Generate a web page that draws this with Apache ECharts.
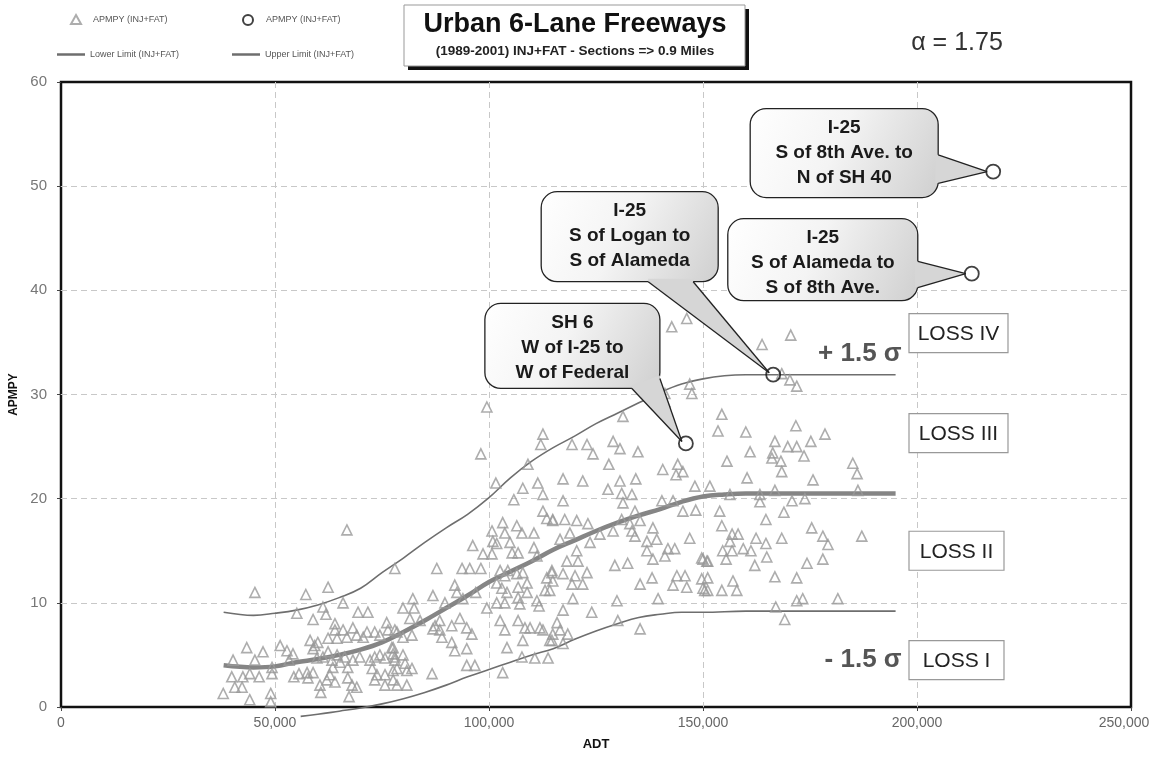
<!DOCTYPE html>
<html><head><meta charset="utf-8">
<script src="https://cdn.jsdelivr.net/npm/echarts@6/dist/echarts.min.js"></script>
<style>html,body{margin:0;padding:0;background:#fff}#c{width:1152px;height:759px}</style>
</head><body><div id="c"></div>
<script>
// ---------- DATA ----------
const xMin = 0, xMax = 250000, xInterval = 50000;
const yMin = 0, yMax = 60, yInterval = 10;

// APMPY (INJ+FAT) observations [ADT, APMPY]
const triPoints = [
[45300,11.0],[57200,10.8],[62400,11.5],[65900,10.0],[55100,9.0],[58900,8.4],[61200,9.6],[61900,8.9],[69400,9.1],[71700,9.1],
[43400,5.7],[47200,5.3],[40200,4.5],[45300,4.5],[49300,3.8],[39900,2.9],[42500,2.9],[46300,2.9],[44100,3.2],[49300,3.2],
[40600,1.9],[42300,1.9],[37900,1.3],[44100,0.7],[49000,1.3],[49000,0.5],[51200,5.9],[52800,5.4],[54200,5.1],[53300,4.5],
[54400,2.9],[55600,3.2],[57500,3.3],[58900,3.3],[57700,2.8],[58200,6.4],[59300,5.9],[60000,6.2],[58900,5.6],[62400,6.6],
[64000,8.0],[64000,7.4],[64500,6.6],[65900,7.4],[66800,6.7],[68200,7.6],[69100,6.9],[70600,6.7],[71500,7.2],[73300,7.2],
[74500,6.9],[76100,8.1],[76400,7.4],[78500,7.2],[59800,4.7],[61200,4.8],[62400,5.3],[63300,4.5],[64500,5.0],[65200,4.3],
[66300,4.8],[67000,3.8],[68200,4.5],[69800,4.8],[63500,3.8],[62800,3.1],[64000,2.4],[62100,2.6],[60500,2.1],[60700,1.4],
[67000,2.8],[68000,2.1],[69100,1.9],[67300,1.0],[72200,4.5],[73300,4.8],[74500,5.0],[75700,4.7],[72700,3.7],[73800,3.1],
[75700,3.1],[77600,3.5],[73300,2.6],[75700,2.1],[77600,2.6],[77300,5.7],[77600,5.1],[78000,4.5],[66800,17.0],
[99500,28.8],[98100,24.3],[112600,26.2],[112100,25.2],[109100,23.3],[101600,21.5],[107900,21.0],[111400,21.5],[112600,20.4],[105800,19.9],
[112600,18.8],[113500,18.1],[114900,18.0],[103200,17.7],[106500,17.4],[107700,16.7],[110500,16.7],[100700,16.9],[100900,15.9],[103700,16.7],
[96200,15.5],[98600,14.7],[100700,14.7],[101800,15.7],[104900,15.8],[105400,14.8],[106800,14.8],[110500,15.3],[111200,14.5],[87800,13.3],
[93700,13.3],[95500,13.3],[98100,13.3],[102600,13.1],[103700,12.6],[104400,13.1],[106500,12.8],[107900,12.9],[108900,11.9],[113500,12.4],
[114700,12.9],[114900,12.1],[114200,11.2],[113100,11.2],[101800,11.9],[103000,11.4],[104200,11.0],[101800,10.0],[103700,10.0],[106800,11.5],
[106800,10.5],[108900,11.0],[107200,9.9],[111200,10.2],[111700,9.7],[92000,11.7],[92500,11.0],[86900,10.7],[82200,10.4],[79900,9.5],
[82500,9.5],[89700,10.0],[93900,10.4],[96900,11.0],[99500,9.5],[81500,8.5],[83900,8.3],[87400,7.8],[88500,8.3],[86900,7.5],
[88500,7.4],[91300,7.8],[93200,8.5],[94800,7.6],[96000,7.0],[89000,6.7],[91300,6.2],[92000,5.4],[94800,5.6],[94800,4.0],
[96700,4.0],[86700,3.2],[102600,8.3],[103700,7.4],[104200,5.7],[103200,3.3],[106800,8.3],[108400,7.6],[109600,7.6],[107900,6.4],
[111900,7.6],[112600,7.4],[114900,7.0],[114200,6.4],[107700,4.8],[110700,4.7],[113800,4.7],[78000,7.4],[79900,6.7],[82000,6.9],
[77600,5.7],[79900,5.0],[78000,4.8],[80400,4.2],[78500,3.7],[80800,3.5],[82000,3.7],[78500,2.1],[80800,2.1],[78000,13.3],
[142700,36.5],[146200,37.3],[141100,30.1],[141100,29.3],[146900,31.0],[147400,30.1],[131300,27.9],[119400,25.2],[122900,25.2],[124300,24.3],
[129000,25.5],[130600,24.8],[134800,24.5],[128000,23.3],[140600,22.8],[144100,23.3],[143700,22.3],[145300,22.6],[117300,21.9],[121900,21.7],
[127800,20.9],[130600,21.7],[134300,21.9],[131000,20.5],[133400,20.4],[131300,19.6],[117300,19.8],[148100,21.2],[151600,21.2],[140400,19.8],
[143000,19.8],[145300,18.8],[148300,18.9],[114900,17.9],[117700,18.0],[120500,17.9],[123100,17.6],[118900,16.7],[125900,16.6],[129000,16.9],
[131000,18.0],[132900,17.6],[134100,18.8],[135300,17.9],[133400,16.9],[138300,17.2],[134100,16.4],[139200,16.1],[136900,15.9],[116600,16.1],
[123600,15.8],[146900,16.2],[136900,15.0],[141800,15.2],[143400,15.2],[138300,14.2],[141100,14.5],[149700,14.3],[150900,14.0],[120500,15.0],
[118200,14.0],[120800,14.0],[129400,13.6],[132400,13.8],[114700,13.1],[117300,12.8],[120100,12.6],[122900,12.9],[121900,11.8],[119400,11.8],
[135300,11.8],[138100,12.4],[143900,12.6],[145800,12.6],[143000,11.7],[146200,11.5],[149700,12.3],[150000,11.4],[151100,11.2],[119600,10.4],
[129900,10.2],[139500,10.4],[117300,9.3],[124000,9.1],[130100,8.3],[135300,7.5],[115900,8.1],[116600,7.4],[118400,7.0],[117300,6.1],[114700,6.4],
[170500,35.7],[163800,34.8],[168400,32.0],[170300,31.4],[171900,30.8],[154400,28.1],[153500,26.5],[160000,26.4],[171700,27.0],[178500,26.2],
[166800,25.5],[169800,25.0],[171900,25.0],[175200,25.5],[161000,24.5],[166300,24.4],[166100,23.9],[173600,24.1],[155600,23.6],[168200,23.6],
[168400,22.6],[185000,23.4],[186000,22.4],[160300,22.0],[175700,21.8],[156300,20.4],[163300,20.4],[166800,20.8],[186200,20.8],
[163300,19.7],[170800,19.8],[173800,20.0],[153900,18.8],[168900,18.7],[164700,18.0],[154400,17.4],[156800,16.6],[158200,16.6],[162400,16.2],
[168400,16.2],[175400,17.2],[178000,16.4],[179200,15.6],[187100,16.4],[156300,15.9],[164700,15.7],[154600,15.0],[156800,15.0],[159400,15.2],
[161200,15.0],[155400,14.2],[164900,14.4],[178000,14.2],[174300,13.8],[162100,13.6],[150000,14.2],[151100,14.0],[151100,12.4],[157000,12.1],
[166800,12.5],[171900,12.4],[154400,11.2],[157900,11.2],[150400,11.2],[171900,10.2],[173300,10.4],[181500,10.4],[167000,9.6],[169100,8.4]
];

// Highlighted sections (circles) [ADT, APMPY]
const circlePoints = [[146000,25.3],[166400,31.9],[212800,41.6],[217800,51.4]];
const calloutTexts = [
  ['SH 6','W of I-25 to','W of Federal'],
  ['I-25','S of Logan to','S of Alameda'],
  ['I-25','S of Alameda to','S of 8th Ave.'],
  ['I-25','S of 8th Ave. to','N of SH 40']
];

// Curves
const curveX = [38000,45000,50000,55000,60000,65000,70000,75000,80000,85000,90000,95000,100000,105000,110000,115000,120000,125000,130000,135000,140000,145000,150000,155000,160000,195000];
const meanY  = [4.0,3.8,3.9,4.3,4.6,5.0,5.5,6.2,7.2,8.3,9.5,10.7,12.0,13.0,14.0,15.1,16.0,16.9,17.7,18.4,19.0,19.7,20.2,20.4,20.5,20.5];
const upperY = [9.1,8.8,9.0,9.3,9.8,10.5,11.4,12.9,14.3,15.8,17.2,18.5,20.1,22.0,23.6,24.9,26.0,27.2,28.2,29.2,30.2,31.0,31.5,31.8,31.9,31.9];
const lowerX = [56000,60000,65000,70000,75000,80000,85000,90000,95000,100000,105000,110000,115000,120000,125000,130000,135000,140000,145000,150000,160000,195000];
const lowerY = [-0.9,-0.7,-0.4,-0.1,0.3,0.8,1.4,2.1,2.9,3.6,4.3,5.0,5.6,6.5,7.3,8.0,8.6,8.9,9.1,9.1,9.2,9.2];

const lossLabels = ['LOSS IV','LOSS III','LOSS II','LOSS I'];
const lossCenterY = [35.9, 26.3, 15.0, 4.5];

// ---------- CHART ----------
const FONT = '"Liberation Sans", Arial, Helvetica, sans-serif';
const chart = echarts.init(document.getElementById('c'), null, {renderer:'canvas'});

const pair = (xs, ys) => xs.map((x,i)=>[x, ys[i]]);
const legTxt = pad => ({fontSize: 9, color: '#555', fontFamily: FONT, padding: [0,0,0,pad]});

chart.setOption({
  animation: false,
  backgroundColor: '#fff',
  textStyle: {fontFamily: FONT},
  grid: {left: 61, right: 21, top: 82, bottom: 52, show: true, borderColor: '#111', borderWidth: 2.5, backgroundColor: 'transparent', containLabel: false, outerBoundsMode: 'none'},
  legend: [
    {left: 70, top: 14, itemWidth: 10, itemHeight: 9, padding: 0, textStyle: legTxt(7),
     formatter: n => n.trim(), data: ['APMPY (INJ+FAT)']},
    {left: 242, top: 14, itemWidth: 10, itemHeight: 10, padding: 0, textStyle: legTxt(8),
     formatter: n => n.trim(), data: ['APMPY (INJ+FAT) ']},
    {left: 57, top: 50, itemWidth: 28, itemHeight: 2.5, icon: 'rect', padding: 0, textStyle: legTxt(0),
     data: ['Lower Limit (INJ+FAT)']},
    {left: 232, top: 50, itemWidth: 28, itemHeight: 2.5, icon: 'rect', padding: 0, textStyle: legTxt(0),
     data: ['Upper Limit (INJ+FAT)']}
  ],
  xAxis: {
    type: 'value', min: xMin, max: xMax, interval: xInterval,
    name: 'ADT', nameLocation: 'middle', nameGap: 31,
    nameTextStyle: {fontSize: 13, fontWeight: 'bold', color: '#111', fontFamily: FONT},
    axisLine: {show: false},
    axisTick: {show: true, length: 4, lineStyle: {color: '#444'}},
    axisLabel: {fontSize: 14, color: '#666', margin: 9, fontFamily: FONT,
      formatter: v => v === xMax ? '{m|' + v.toLocaleString('en-US') + '}' : v.toLocaleString('en-US'),
      rich: {m: {fontSize: 14, color: '#666', fontFamily: FONT, padding: [0, 14, 0, 0]}}},
    splitLine: {show: true, showMinLine: false, showMaxLine: false, lineStyle: {color: '#c8c8c8', type: [6,4], width: 1}}
  },
  yAxis: {
    type: 'value', min: yMin, max: yMax, interval: yInterval,
    name: 'APMPY', nameLocation: 'middle', nameGap: 40,
    nameTextStyle: {fontSize: 12, fontWeight: 'bold', color: '#111', fontFamily: FONT},
    axisLine: {show: false},
    axisTick: {show: true, length: 4, lineStyle: {color: '#444'}},
    axisLabel: {fontSize: 15, color: '#777', margin: 14, fontFamily: FONT},
    splitLine: {show: true, showMinLine: false, showMaxLine: false, lineStyle: {color: '#c8c8c8', type: [6,4], width: 1}}
  },
  series: [
    {name: 'Lower Limit (INJ+FAT)', type: 'line', data: pair(lowerX, lowerY), smooth: 0.4, symbol: 'none', clip: false,
     lineStyle: {color: '#6e6e6e', width: 1.6}, itemStyle: {color: '#6e6e6e'}, z: 3},
    {name: 'Upper Limit (INJ+FAT)', type: 'line', data: pair(curveX, upperY), smooth: 0.4, symbol: 'none',
     lineStyle: {color: '#6e6e6e', width: 1.6}, itemStyle: {color: '#6e6e6e'}, z: 3},
    {name: 'Mean', type: 'line', data: pair(curveX, meanY), smooth: 0.4, symbol: 'none',
     lineStyle: {color: '#858585', width: 4.5}, z: 3},
    {name: 'APMPY (INJ+FAT)', type: 'scatter', data: triPoints, symbol: 'triangle', symbolSize: 10,
     itemStyle: {color: 'rgba(255,255,255,0)', borderColor: '#999', borderWidth: 1.6}, z: 4},
    {name: 'APMPY (INJ+FAT) ', type: 'scatter', data: circlePoints, symbol: 'circle', symbolSize: 14,
     itemStyle: {color: 'rgba(255,255,255,0)', borderColor: '#111', borderWidth: 1.8}, z: 20}
  ]
});

// ---------- ANNOTATIONS ----------
const P = circlePoints.map(p => chart.convertToPixel({seriesIndex: 4}, p));
// box geometry relative to the highlighted point: [dx, dy, w, h, tailSide]
const boxGeo = [
  [-201, -140, 175, 85, 'bottomR'],
  [-232, -183, 177, 90, 'bottomM'],
  [-244, -55, 190, 82, 'right'],
  [-243, -63, 188, 89, 'right']
];
const grad = {type: 'linear', x: 0, y: 0, x2: 1, y2: 1, colorStops: [{offset: 0, color: '#ffffff'}, {offset: 0.45, color: '#f4f4f4'}, {offset: 1, color: '#cfcfcf'}]};
const g = [];
boxGeo.forEach((b, i) => {
  const [px, py] = P[i];
  const x = px + b[0], y = py + b[1], w = b[2], h = b[3];
  let base1, base2;
  if (b[4] === 'bottomR') { base1 = [x + w - 28, y + h]; base2 = [x + w, y + h - 10]; }
  else if (b[4] === 'bottomM') { base1 = [x + 107, y + h]; base2 = [x + 152, y + h]; }
  else { base1 = [x + w, y + h * 0.52]; base2 = [x + w, y + h * 0.84]; }
  const tip = [px - 4, py - 2];
  if (b[4] === 'right') { tip[0] = px - 6; tip[1] = py; }
  g.push({type: 'rect', shape: {x, y, width: w, height: h, r: 16}, style: {fill: grad, stroke: '#222', lineWidth: 1.3}, z: 100});
  const inner1 = b[4] === 'right' ? [base1[0] - 3, base1[1]] : [base1[0], base1[1] - 3];
  const inner2 = b[4] === 'right' ? [base2[0] - 3, base2[1]] : [base2[0], base2[1] - 3];
  g.push({type: 'polygon', shape: {points: [inner1, base1, tip, base2, inner2]}, style: {fill: '#d6d6d6', stroke: null}, z: 101});
  g.push({type: 'polyline', shape: {points: [base1, tip]}, style: {stroke: '#222', lineWidth: 1.3, fill: null}, z: 102});
  g.push({type: 'polyline', shape: {points: [base2, tip]}, style: {stroke: '#222', lineWidth: 1.3, fill: null}, z: 102});
  calloutTexts[i].forEach((t, k) => {
    g.push({type: 'text', x: x + w / 2, y: y + 19 + k * 25, z: 103,
      style: {text: t, font: 'bold 19px ' + FONT, fill: '#1a1a1a', textAlign: 'center', textVerticalAlign: 'middle'}});
  });
});

// sigma labels near end of limit lines
const upEnd = chart.convertToPixel({seriesIndex: 1}, [curveX[curveX.length-1], upperY[upperY.length-1]]);
const loEnd = chart.convertToPixel({seriesIndex: 0}, [lowerX[lowerX.length-1], lowerY[lowerY.length-1]]);
g.push({type: 'text', x: upEnd[0] + 6, y: upEnd[1] - 21, z: 50,
  style: {text: '+ 1.5 σ', font: 'bold 26px ' + FONT, fill: '#555', textAlign: 'right', textVerticalAlign: 'middle'}});
g.push({type: 'text', x: upEnd[0] + 6, y: loEnd[1] + 49, z: 50,
  style: {text: '- 1.5 σ', font: 'bold 26px ' + FONT, fill: '#555', textAlign: 'right', textVerticalAlign: 'middle'}});

// LOSS boxes
lossLabels.forEach((t, i) => {
  const c = chart.convertToPixel({yAxisIndex: 0}, lossCenterY[i]);
  const w = (i === 0 || i === 1) ? 99 : 95;
  g.push({type: 'rect', shape: {x: 909, y: c - 19.5, width: w, height: 39}, style: {fill: '#fff', stroke: '#999', lineWidth: 1.2}, z: 50});
  g.push({type: 'text', x: 909 + w / 2, y: c + 1, z: 51,
    style: {text: t, font: '21px ' + FONT, fill: '#222', textAlign: 'center', textVerticalAlign: 'middle'}});
});

// Title box
g.push({type: 'rect', shape: {x: 408, y: 9, width: 341, height: 61}, style: {fill: '#111'}, z: 100});
g.push({type: 'rect', shape: {x: 404, y: 5, width: 341, height: 61}, style: {fill: '#fff', stroke: '#999', lineWidth: 1}, z: 101});
g.push({type: 'text', x: 575, y: 25, z: 102,
  style: {text: 'Urban 6-Lane Freeways', font: 'bold 27px ' + FONT, fill: '#111', textAlign: 'center', textVerticalAlign: 'middle'}});
g.push({type: 'text', x: 575, y: 51, z: 102,
  style: {text: '(1989-2001) INJ+FAT - Sections => 0.9 Miles', font: 'bold 13.5px ' + FONT, fill: '#222', textAlign: 'center', textVerticalAlign: 'middle'}});
// alpha
g.push({type: 'text', x: 957, y: 43, z: 102,
  style: {text: 'α = 1.75', font: '25px ' + FONT, fill: '#333', textAlign: 'center', textVerticalAlign: 'middle'}});

chart.setOption({graphic: g});
</script>
</body></html>
